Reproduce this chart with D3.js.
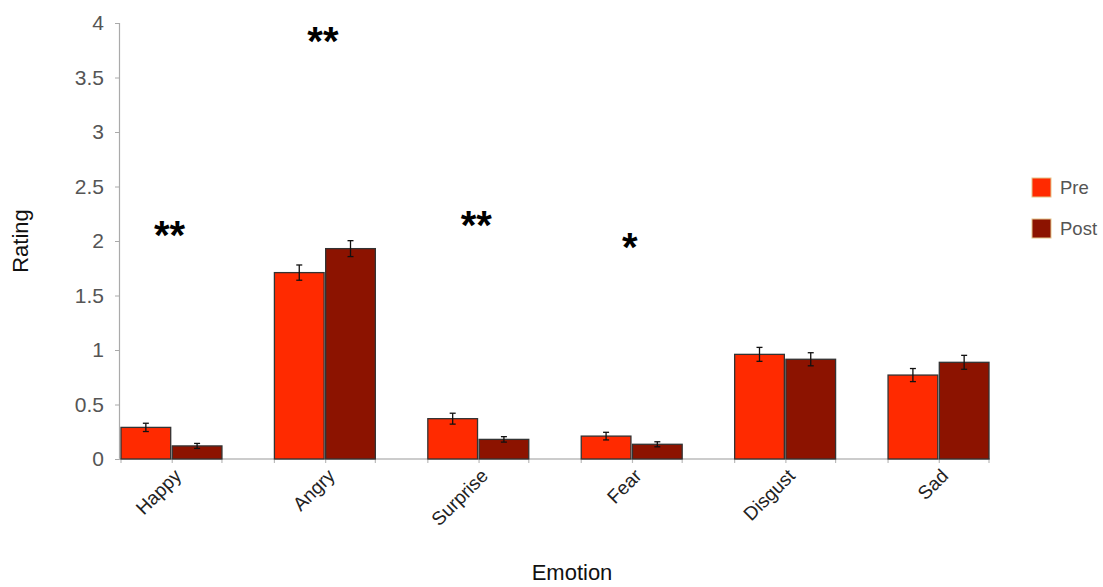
<!DOCTYPE html>
<html>
<head>
<meta charset="utf-8">
<script src="https://cdn.jsdelivr.net/npm/d3@7"></script>
<style>
  html, body { margin: 0; padding: 0; background: #fff; }
  svg { display: block; font-family: "Liberation Sans", Arial, sans-serif; }
</style>
</head>
<body>
<svg id="chart" width="1103" height="587"></svg>
<script>
// Mean emotion ratings before and after, with standard errors
const emotions = ["Happy", "Angry", "Surprise", "Fear", "Disgust", "Sad"];
const seriesNames = ["Pre", "Post"];
const preValues = [0.29, 1.71, 0.37, 0.21, 0.96, 0.77];
const postValues = [0.12, 1.93, 0.18, 0.135, 0.915, 0.887];
const preErrors = [0.038, 0.07, 0.05, 0.035, 0.064, 0.06];
const postErrors = [0.023, 0.073, 0.025, 0.023, 0.06, 0.064];
const yTicks = [0, 0.5, 1, 1.5, 2, 2.5, 3, 3.5, 4];
// Significance markers and the rating level they sit at
const sigMarks = ["**", "**", "**", "*", "", ""];
const sigLevels = [2.1, 3.88, 2.19, 1.99, 0, 0];

const colors = { Pre: "#ff2a00", Post: "#8c1300" };

const svg = d3.select("#chart");

const y = d3.scaleLinear().domain([0, 4]).range([459, 23]);
const x0 = d3.scaleBand().domain(emotions).range([121, 989]).paddingInner(0.342).paddingOuter(0);
const x1 = d3.scaleBand().domain(seriesNames).range([0, x0.bandwidth()]).paddingInner(0.03);

const rows = emotions.map((e, i) => ({
  emotion: e,
  values: [
    { key: "Pre", value: preValues[i], err: preErrors[i] },
    { key: "Post", value: postValues[i], err: postErrors[i] }
  ]
}));

// Y axis
const yAxis = d3.axisLeft(y).tickValues(yTicks).tickSize(4).tickPadding(11)
  .tickFormat(d3.format("~g"));
const gy = svg.append("g").attr("transform", "translate(119,0)").call(yAxis);
gy.select(".domain").attr("stroke", "#aaa").attr("stroke-width", 1.2);
gy.selectAll(".tick line").attr("stroke", "#aaa");
gy.selectAll(".tick text").attr("fill", "#555").style("font-size", "21px");

// X axis baseline with ticks at each bar edge
const gx = svg.append("g");
gx.append("line")
  .attr("x1", 119).attr("x2", 990)
  .attr("y1", y(0)).attr("y2", y(0))
  .attr("stroke", "#bbb").attr("stroke-width", 1.5);
const edges = [];
emotions.forEach(e => {
  edges.push(x0(e), x0(e) + x1("Post"), x0(e) + x0.bandwidth());
});
gx.selectAll("line.edge").data(edges).join("line")
  .attr("class", "edge")
  .attr("x1", d => d).attr("x2", d => d)
  .attr("y1", y(0)).attr("y2", y(0) + 4)
  .attr("stroke", "#bbb").attr("stroke-width", 1.2);

// Bars
const groups = svg.append("g").selectAll("g").data(rows).join("g")
  .attr("transform", d => `translate(${x0(d.emotion)},0)`);

groups.selectAll("rect").data(d => d.values).join("rect")
  .attr("x", d => x1(d.key))
  .attr("y", d => y(d.value))
  .attr("width", x1.bandwidth())
  .attr("height", d => y(0) - y(d.value))
  .attr("fill", d => colors[d.key])
  .attr("stroke", "#333")
  .attr("stroke-width", 1.3);

// Error bars
const eb = groups.selectAll("g.err").data(d => d.values).join("g").attr("class", "err")
  .attr("transform", d => `translate(${x1(d.key) + x1.bandwidth() / 2},0)`);
eb.append("line")
  .attr("y1", d => y(d.value + d.err)).attr("y2", d => y(d.value - d.err))
  .attr("stroke", "#111").attr("stroke-width", 1.3);
eb.append("line")
  .attr("x1", -3).attr("x2", 3)
  .attr("y1", d => y(d.value + d.err)).attr("y2", d => y(d.value + d.err))
  .attr("stroke", "#111").attr("stroke-width", 1.3);
eb.append("line")
  .attr("x1", -3).attr("x2", 3)
  .attr("y1", d => y(d.value - d.err)).attr("y2", d => y(d.value - d.err))
  .attr("stroke", "#111").attr("stroke-width", 1.3);

// Significance asterisks
svg.append("g").selectAll("text").data(emotions.filter((e, i) => sigMarks[i]))
  .join("text")
  .attr("x", e => x0(e) + x0.bandwidth() / 2 - 2)
  .attr("y", e => y(sigLevels[emotions.indexOf(e)]) + 19)
  .attr("text-anchor", "middle")
  .attr("fill", "#000")
  .style("font-size", "40px")
  .style("font-weight", "bold")
  .text(e => sigMarks[emotions.indexOf(e)]);

// Category labels rotated -45°
svg.append("g").selectAll("text").data(emotions).join("text")
  .attr("transform", e => `translate(${x0(e) + x0.bandwidth() / 2 + 11},${y(0) + 18}) rotate(-45)`)
  .attr("text-anchor", "end")
  .attr("fill", "#222")
  .style("font-size", "19px")
  .text(e => e);

// Axis titles
svg.append("text")
  .attr("transform", "translate(28,241) rotate(-90)")
  .attr("text-anchor", "middle")
  .attr("fill", "#111")
  .style("font-size", "22px")
  .text("Rating");

svg.append("text")
  .attr("x", 572).attr("y", 580)
  .attr("text-anchor", "middle")
  .attr("fill", "#111")
  .style("font-size", "22px")
  .text("Emotion");

// Legend
const legend = svg.append("g").selectAll("g").data(seriesNames).join("g")
  .attr("transform", (d, i) => `translate(1032,${178 + i * 41})`);
legend.append("rect")
  .attr("width", 19).attr("height", 19)
  .attr("fill", d => colors[d])
  .attr("stroke", "#e3c48a").attr("stroke-width", 1);
legend.append("text")
  .attr("x", 28).attr("y", 16)
  .attr("fill", "#555")
  .style("font-size", "18.5px")
  .text(d => d);
</script>
</body>
</html>
